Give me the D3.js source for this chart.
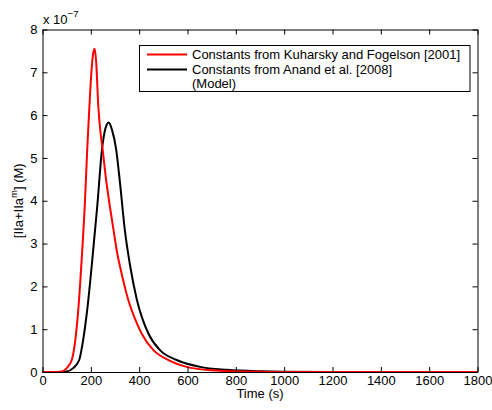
<!DOCTYPE html>
<html>
<head>
<meta charset="utf-8">
<script src="https://cdn.jsdelivr.net/npm/d3@7"></script>
<style>
  body { margin: 0; background: #fff; }
  svg { font-family: "Liberation Sans", Arial, Helvetica, sans-serif; }
  .axis path, .axis line { stroke: #000; }
  .axis text { fill: #000; font-size: 13px; }
</style>
</head>
<body>
<div id="chart"></div>
<script>
// values are in units of 1e-7 M
const timeKF = [0, 60, 80, 100, 121, 134, 148, 162, 175, 185, 194, 205, 210, 216, 222, 231, 240, 249, 264, 279, 296, 310, 321, 340, 355, 380, 410, 459, 521, 597, 700, 800, 900, 1000, 1200, 1400, 1600, 1800];
const valKF  = [0, 0, 0.01, 0.09, 0.28, 0.67, 1.45, 2.62, 3.9, 5.19, 6.2, 7.2, 7.45, 7.55, 7.25, 6.2, 5.6, 5.19, 4.45, 3.86, 3.24, 2.75, 2.46, 2.0, 1.68, 1.28, 0.9, 0.51, 0.28, 0.12, 0.04, 0.015, 0.005, 0.002, 0, 0, 0, 0];

const timeAnand = [0, 80, 100, 127, 152, 166, 185, 206, 227, 246, 260, 274, 288, 305, 321, 341, 362, 390, 438, 486, 555, 652, 762, 900, 1000, 1200, 1400, 1600, 1800];
const valAnand  = [0, 0, 0.01, 0.09, 0.28, 0.67, 1.45, 2.62, 3.9, 5.19, 5.68, 5.83, 5.65, 5.19, 4.4, 3.3, 2.5, 1.7, 0.9, 0.51, 0.28, 0.12, 0.05, 0.015, 0.005, 0, 0, 0, 0];

const xTickValues = [0, 200, 400, 600, 800, 1000, 1200, 1400, 1600, 1800];
const yTickValues = [0, 1, 2, 3, 4, 5, 6, 7, 8];
const legendLabels = [
  ['Constants from Kuharsky and Fogelson [2001]'],
  ['Constants from Anand et al. [2008]', '(Model)']
];
const seriesColors = ['#ff0000', '#000000'];

const W = 492, H = 410;
const L = 42.5, R = 477.5, T = 29.5, B = 372;
const FS = 13;

const svg = d3.select('#chart').append('svg')
  .attr('width', W).attr('height', H);

const x = d3.scaleLinear().domain([0, 1800]).range([L, R]);
const y = d3.scaleLinear().domain([0, 8]).range([B, T]);

const line = d3.line()
  .x(d => x(d[0])).y(d => y(d[1]))
  .curve(d3.curveMonotoneX);

const series = [
  d3.zip(timeAnand, valAnand),
  d3.zip(timeKF, valKF)
];
const colors = [seriesColors[1], seriesColors[0]];

// curves (black first, red on top)
svg.append('g').selectAll('path').data(series).join('path')
  .attr('fill', 'none')
  .attr('stroke', (d, i) => colors[i])
  .attr('stroke-width', 2)
  .attr('stroke-linejoin', 'round')
  .attr('d', line);

// axes with inward ticks, box on
const tk = 5;
const fmt = d3.format('d');
svg.append('g').attr('class', 'axis')
  .attr('transform', `translate(0,${B})`)
  .call(d3.axisBottom(x).tickValues(xTickValues).tickFormat(fmt).tickSizeInner(-tk).tickSizeOuter(0).tickPadding(4));
svg.append('g').attr('class', 'axis')
  .attr('transform', `translate(0,${T})`)
  .call(d3.axisTop(x).tickValues(xTickValues).tickSizeInner(-tk).tickSizeOuter(0).tickFormat(''));
svg.append('g').attr('class', 'axis')
  .attr('transform', `translate(${L},0)`)
  .call(d3.axisLeft(y).tickValues(yTickValues).tickFormat(fmt).tickSizeInner(-tk).tickSizeOuter(0).tickPadding(5));
svg.append('g').attr('class', 'axis')
  .attr('transform', `translate(${R},0)`)
  .call(d3.axisRight(y).tickValues(yTickValues).tickSizeInner(-tk).tickSizeOuter(0).tickFormat(''));

// exponent label
const expo = svg.append('text').attr('x', 43).attr('y', 24).attr('font-size', FS);
expo.append('tspan').text('x 10');
expo.append('tspan').attr('font-size', 9.5).attr('dy', -7).text('\u22127');

// axis labels
svg.append('text')
  .attr('x', (L + R) / 2).attr('y', 398)
  .attr('text-anchor', 'middle').attr('font-size', FS)
  .text('Time (s)');

const yl = svg.append('text')
  .attr('transform', `translate(23,${(T + B) / 2}) rotate(-90)`)
  .attr('text-anchor', 'middle').attr('font-size', FS);
yl.append('tspan').text('[IIa+IIa');
yl.append('tspan').attr('font-size', 9.5).attr('dy', -6).text('m');
yl.append('tspan').attr('dy', 6).text('] (M)');

// legend
const lg = svg.append('g');
lg.append('rect')
  .attr('x', 139.5).attr('y', 45.5).attr('width', 330.5).attr('height', 46)
  .attr('fill', '#fff').attr('stroke', '#000').attr('stroke-width', 1);
const legendRows = [54.5, 69.5];
legendLabels.forEach((lines, i) => {
  lg.append('line')
    .attr('x1', 147).attr('x2', 187)
    .attr('y1', legendRows[i]).attr('y2', legendRows[i])
    .attr('stroke', seriesColors[i]).attr('stroke-width', 2);
  lines.forEach((t, j) => {
    lg.append('text')
      .attr('x', 192).attr('y', legendRows[i] + 4 + j * 14.8)
      .attr('font-size', FS)
      .text(t);
  });
});
</script>
</body>
</html>
